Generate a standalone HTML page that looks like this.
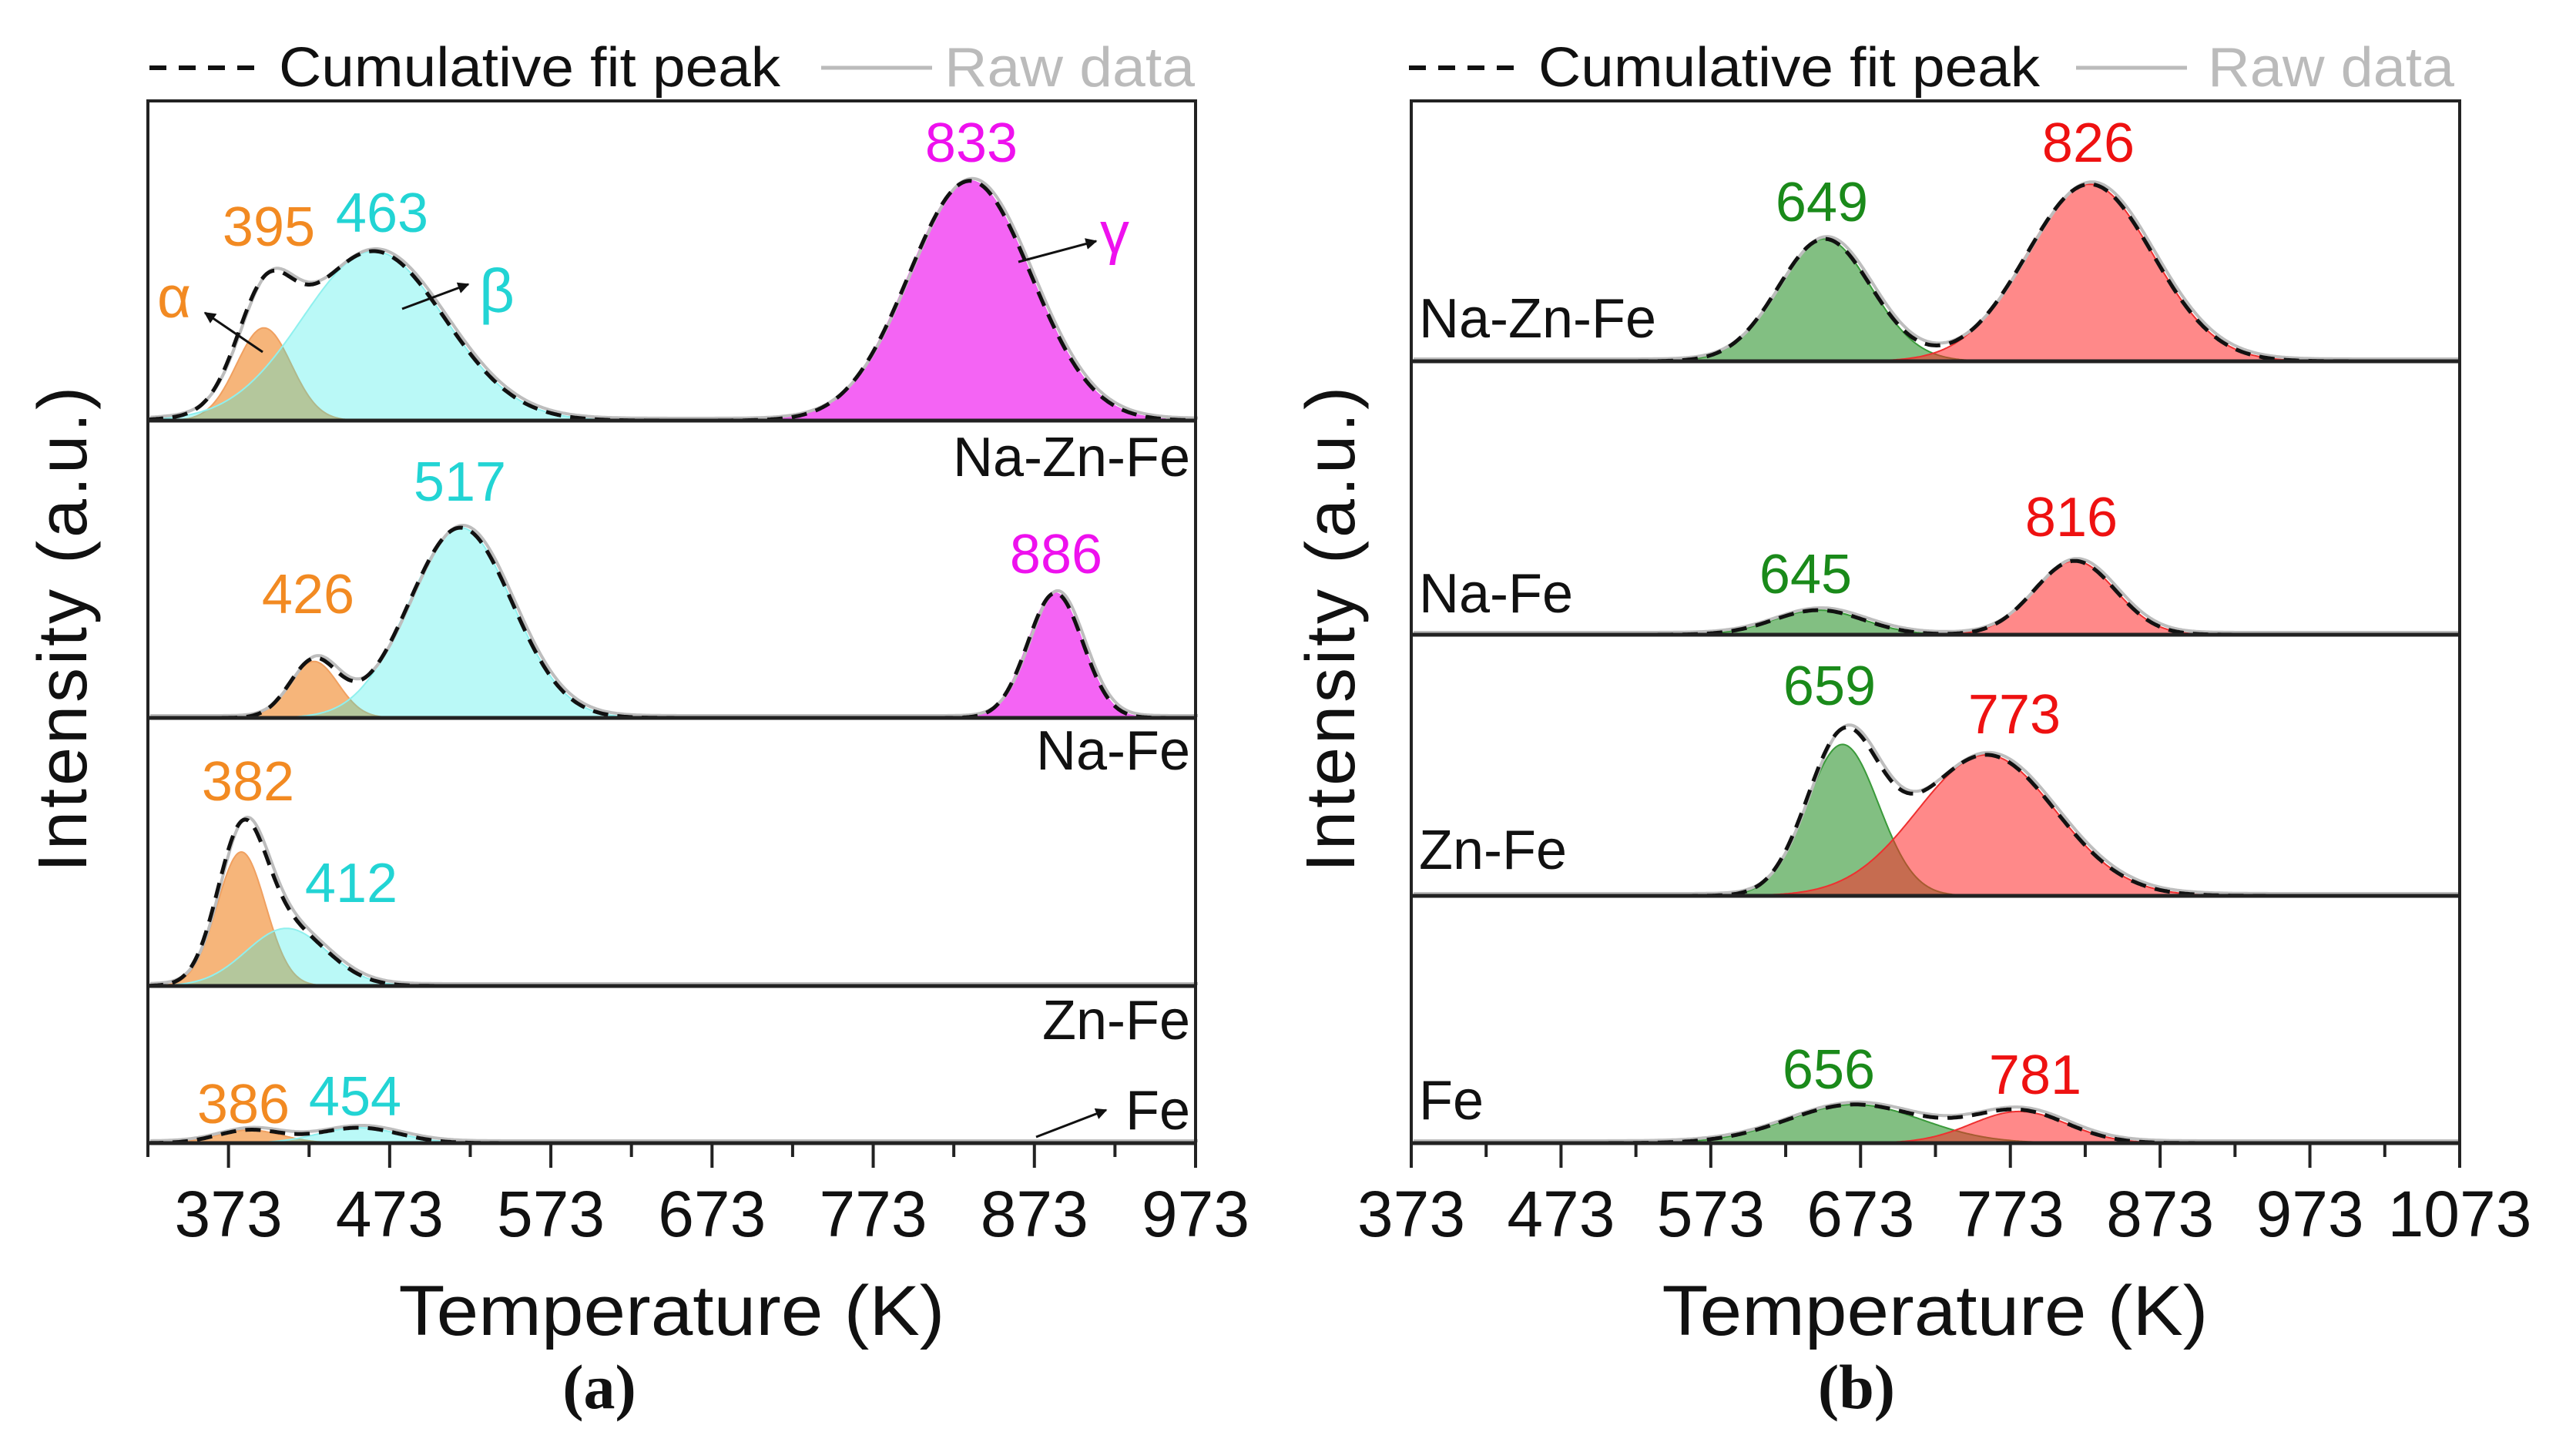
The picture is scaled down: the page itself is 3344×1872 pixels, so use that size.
<!DOCTYPE html>
<html><head><meta charset="utf-8">
<style>
html,body{margin:0;padding:0;background:#fff;}
svg{display:block;font-family:"Liberation Sans",Arial,sans-serif;}
</style></head>
<body>
<svg id="fig" width="3344" height="1872" viewBox="0 0 3344 1872" xmlns="http://www.w3.org/2000/svg">
<defs>
<marker id="arr" viewBox="0 0 10 10" refX="9" refY="5" markerWidth="5" markerHeight="5" orient="auto"><path d="M0,0 L10,5 L0,10 z" fill="#111"/></marker>
</defs>
<g id="plotA"></g>
<g id="plotB"></g>

<g>
<line x1="194" y1="88" x2="346" y2="88" stroke="#111" stroke-width="6" stroke-dasharray="22 16"/>
<text x="362" y="112" font-size="72" fill="#111" textLength="651" lengthAdjust="spacingAndGlyphs">Cumulative fit peak</text>
<line x1="1066" y1="88" x2="1210" y2="88" stroke="#bbb" stroke-width="5"/>
<text x="1226" y="112" font-size="72" fill="#bbb" textLength="325" lengthAdjust="spacingAndGlyphs">Raw data</text>
</g>
<g>
<line x1="1829" y1="88" x2="1981" y2="88" stroke="#111" stroke-width="6" stroke-dasharray="22 16"/>
<text x="1997" y="112" font-size="72" fill="#111" textLength="651" lengthAdjust="spacingAndGlyphs">Cumulative fit peak</text>
<line x1="2695" y1="88" x2="2839" y2="88" stroke="#bbb" stroke-width="5"/>
<text x="2866" y="112" font-size="72" fill="#bbb" textLength="320" lengthAdjust="spacingAndGlyphs">Raw data</text>
</g>

<text transform="translate(112,815) rotate(-90)" text-anchor="middle" font-size="90" letter-spacing="4" fill="#111">Intensity (a.u.)</text>
<text transform="translate(1758,815) rotate(-90)" text-anchor="middle" font-size="90" letter-spacing="4" fill="#111">Intensity (a.u.)</text>
<text x="872" y="1733" text-anchor="middle" font-size="92" fill="#111" textLength="709" lengthAdjust="spacingAndGlyphs">Temperature (K)</text>
<text x="2512" y="1733" text-anchor="middle" font-size="92" fill="#111" textLength="709" lengthAdjust="spacingAndGlyphs">Temperature (K)</text>
<text x="778" y="1828" text-anchor="middle" font-size="82" font-weight="bold" fill="#111" font-family="Liberation Serif,serif">(a)</text>
<text x="2410" y="1828" text-anchor="middle" font-size="82" font-weight="bold" fill="#111" font-family="Liberation Serif,serif">(b)</text>

<g font-size="72" text-anchor="middle">
<text x="349" y="319" fill="#f28a22">395</text>
<text x="496" y="301" fill="#22d4d4">463</text>
<text x="1261" y="210" fill="#ee11ee">833</text>
<text x="226" y="412" fill="#f28a22" font-size="76">α</text>
<text x="645" y="405" fill="#22d4d4" font-size="80">β</text>
<text x="1447" y="328" fill="#ee11ee" font-size="76">γ</text>
<line x1="341" y1="457" x2="266" y2="406" stroke="#111" stroke-width="3" marker-end="url(#arr)"/>
<line x1="522" y1="401" x2="608" y2="369" stroke="#111" stroke-width="3" marker-end="url(#arr)"/>
<line x1="1322" y1="340" x2="1423" y2="313" stroke="#111" stroke-width="3" marker-end="url(#arr)"/>
<text x="1545" y="618" fill="#111" text-anchor="end">Na-Zn-Fe</text>
<text x="597" y="650" fill="#22d4d4">517</text>
<text x="400" y="796" fill="#f28a22">426</text>
<text x="1371" y="744" fill="#ee11ee">886</text>
<text x="1545" y="999" fill="#111" text-anchor="end">Na-Fe</text>
<text x="322" y="1039" fill="#f28a22">382</text>
<text x="456" y="1171" fill="#22d4d4">412</text>
<text x="1545" y="1349" fill="#111" text-anchor="end">Zn-Fe</text>
<text x="316" y="1458" fill="#f28a22">386</text>
<text x="461" y="1448" fill="#22d4d4">454</text>
<text x="1545" y="1466" fill="#111" text-anchor="end">Fe</text>
<line x1="1345" y1="1476" x2="1436" y2="1441" stroke="#111" stroke-width="3" marker-end="url(#arr)"/>
</g>
<g font-size="72" text-anchor="middle">
<text x="2365" y="287" fill="#1a8a1a">649</text>
<text x="2711" y="210" fill="#ee1111">826</text>
<text x="1842" y="438" fill="#111" text-anchor="start">Na-Zn-Fe</text>
<text x="2344" y="770" fill="#1a8a1a">645</text>
<text x="2689" y="696" fill="#ee1111">816</text>
<text x="1842" y="795" fill="#111" text-anchor="start">Na-Fe</text>
<text x="2375" y="915" fill="#1a8a1a">659</text>
<text x="2615" y="952" fill="#ee1111">773</text>
<text x="1842" y="1128" fill="#111" text-anchor="start">Zn-Fe</text>
<text x="2374" y="1413" fill="#1a8a1a">656</text>
<text x="2642" y="1420" fill="#ee1111">781</text>
<text x="1842" y="1453" fill="#111" text-anchor="start">Fe</text>
</g>
</svg>
<script>
// ---- data: panel (a) ----
const aPeakCenters = [395, 463, 833, 426, 517, 886, 381, 409, 386, 454];
const aPeakAmps    = [29, 53, 75, 19, 64, 42, 50, 21.5, 8.3, 9.8];
const aPeakSigmas  = [17, 44, 38, 15, 32, 17, 15, 25, 20, 25];
const aPeakPanel   = [0, 0, 0, 1, 1, 1, 2, 2, 3, 3];
const aPeakKind    = ['alpha','beta','gamma','alpha','beta','gamma','alpha','beta','alpha','beta'];
const aTicks = [373, 473, 573, 673, 773, 873, 973];
const aTickLabels = ['373','473','573','673','773','873','973'];
// ---- data: panel (b) ----
const bPeakCenters = [649, 826, 645, 816, 661, 757, 669, 779];
const bPeakAmps    = [47, 68, 9, 27, 58, 54, 15.6, 12.8];
const bPeakSigmas  = [31, 42, 30, 27, 24, 46, 45, 32];
const bPeakPanel   = [0, 0, 1, 1, 2, 2, 3, 3];
const bPeakKind    = ['green','red','green','red','green','red','green','red'];
const bTicks = [373, 473, 573, 673, 773, 873, 973, 1073];
const bTickLabels = ['373','473','573','673','773','873','973','1073'];

const NS = 'http://www.w3.org/2000/svg';
const styles = {
  alpha: {fill:'rgba(240,135,40,0.62)', stroke:'#f0a060'},
  beta:  {fill:'rgba(40,235,230,0.32)', stroke:'#8ff0ee'},
  gamma: {fill:'rgba(240,40,240,0.72)', stroke:'#f060f0'},
  green: {fill:'rgba(40,145,40,0.58)', stroke:'#3a9a3a'},
  red:   {fill:'rgba(255,40,40,0.55)', stroke:'#ee3030'}
};
function mk(tag, attrs, parent){
  const e = document.createElementNS(NS, tag);
  for (const k in attrs) e.setAttribute(k, attrs[k]);
  parent.appendChild(e);
  return e;
}
function build(cfg){
  const g = document.getElementById(cfg.id);
  const xs = v => cfg.x0 + (v - cfg.kmin) / (cfg.kmax - cfg.kmin) * (cfg.x1 - cfg.x0);
  const ys = (p, v) => cfg.bounds[p][1] - v / 100 * (cfg.bounds[p][1] - cfg.bounds[p][0]);
  const step = 2;
  for (let i = 0; i < cfg.c.length; i++){
    const p = cfg.panel[i];
    let d = '';
    const lo = Math.max(cfg.kmin, cfg.c[i] - 3.2 * cfg.s[i]);
    const hi = Math.min(cfg.kmax, cfg.c[i] + 3.2 * cfg.s[i]);
    for (let k = lo; k <= hi + 0.01; k += step / ((cfg.x1 - cfg.x0) / (cfg.kmax - cfg.kmin))){
      const v = cfg.a[i] * Math.exp(-((k - cfg.c[i]) ** 2) / (2 * cfg.s[i] ** 2));
      d += (d ? 'L' : 'M') + xs(k).toFixed(1) + ',' + ys(p, v).toFixed(1);
    }
    d += 'L' + xs(hi).toFixed(1) + ',' + ys(p, 0) + 'L' + xs(lo).toFixed(1) + ',' + ys(p, 0) + 'Z';
    const st = styles[cfg.kind[i]];
    const el = mk('path', {d: d, fill: st.fill, stroke: st.stroke, 'stroke-width': 2}, g);
    
    
  }
  for (let p = 0; p < 4; p++){
    let d = '';
    for (let px = cfg.x0; px <= cfg.x1; px += step){
      const k = cfg.kmin + (px - cfg.x0) / (cfg.x1 - cfg.x0) * (cfg.kmax - cfg.kmin);
      let v = 0;
      for (let i = 0; i < cfg.c.length; i++) if (cfg.panel[i] === p)
        v += cfg.a[i] * Math.exp(-((k - cfg.c[i]) ** 2) / (2 * cfg.s[i] ** 2));
      d += (d ? 'L' : 'M') + px.toFixed(1) + ',' + ys(p, v).toFixed(1);
    }
    const raw = mk('path', {d: d, fill: 'none', stroke: '#bdbdbd', 'stroke-width': 4, transform: 'translate(3,-3)'}, g);
    
    
    const cum = mk('path', {d: d, fill: 'none', stroke: '#111', 'stroke-width': 5, 'stroke-dasharray': '20 12'}, g);
    
    
  }
  const fr = mk('rect', {x: cfg.x0, y: cfg.bounds[0][0], width: cfg.x1 - cfg.x0, height: cfg.bounds[3][1] - cfg.bounds[0][0], fill: 'none', stroke: '#222', 'stroke-width': 4}, g);
  
  
  for (let p = 0; p < 4; p++){
    const ln = mk('line', {x1: cfg.x0, x2: cfg.x1, y1: cfg.bounds[p][1], y2: cfg.bounds[p][1], stroke: '#222', 'stroke-width': 5}, g);
    
    
  }
  const yb = cfg.bounds[3][1];
  for (let t = cfg.kmin; t <= cfg.kmax + 0.1; t += 50){
    const major = cfg.ticks.indexOf(t) >= 0;
    const tk = mk('line', {x1: xs(t), x2: xs(t), y1: yb, y2: yb + (major ? 32 : 18), stroke: '#222', 'stroke-width': 4}, g);
    
    
  }
  for (let i = 0; i < cfg.ticks.length; i++){
    const tl = mk('text', {x: xs(cfg.ticks[i]), y: 1605, 'text-anchor': 'middle', 'font-size': 84, fill: '#111'}, g);
    tl.textContent = cfg.labels[i];
    
    
  }
}
build({id: 'plotA', x0: 192, x1: 1552, kmin: 323, kmax: 973,
  bounds: [[131, 546], [546, 932], [932, 1280], [1280, 1484]],
  c: aPeakCenters, a: aPeakAmps, s: aPeakSigmas, panel: aPeakPanel, kind: aPeakKind,
  ticks: aTicks, labels: aTickLabels});
build({id: 'plotB', x0: 1832, x1: 3193, kmin: 373, kmax: 1073,
  bounds: [[131, 469], [469, 824], [824, 1163], [1163, 1484]],
  c: bPeakCenters, a: bPeakAmps, s: bPeakSigmas, panel: bPeakPanel, kind: bPeakKind,
  ticks: bTicks, labels: bTickLabels});
</script>
</body></html>
